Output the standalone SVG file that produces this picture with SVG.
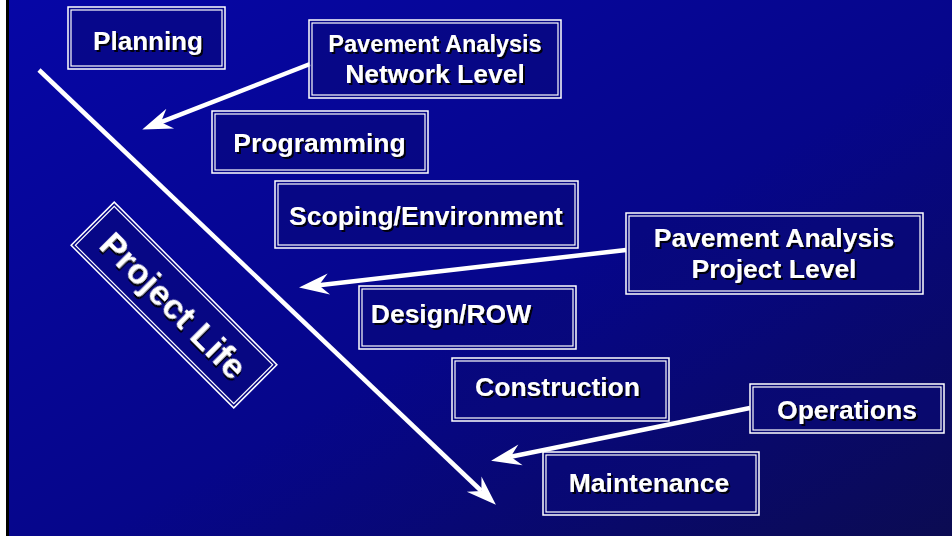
<svg xmlns="http://www.w3.org/2000/svg" width="952" height="536" viewBox="0 0 952 536">
<defs>
  <linearGradient id="bg" x1="0" y1="0" x2="1" y2="1">
    <stop offset="0" stop-color="#0606a6"/>
    <stop offset="0.55" stop-color="#06068a"/>
    <stop offset="1" stop-color="#0b0b52"/>
  </linearGradient>
  <filter id="sh" x="-10%" y="-30%" width="130%" height="160%">
    <feDropShadow dx="2" dy="2" stdDeviation="0.6" flood-color="#000000" flood-opacity="0.9"/>
  </filter>
  <marker id="ah" markerUnits="userSpaceOnUse" markerWidth="40" markerHeight="40" viewBox="-12 -14 32 28" refX="0" refY="0" orient="auto">
    <path d="M16,0 L-8,-8.5 L0,0 L-8,8.5 Z" fill="#ffffff"/>
  </marker>
  <style>
    .outer{fill:#0a0a78;fill-opacity:0.55;stroke:#ffffff;stroke-width:1.5}
    .inner{fill:none;stroke:#ffffff;stroke-width:1.2}
    .t{font-family:"Liberation Sans",Arial,sans-serif;font-weight:bold;fill:#ffffff;text-anchor:middle;font-size:26.5px;filter:url(#sh)}
    .con{fill:none;stroke:#ffffff;stroke-width:4.5;stroke-linecap:butt}
  </style>
</defs>
<rect x="0" y="0" width="952" height="536" fill="url(#bg)"/>
<rect x="0" y="0" width="6" height="536" fill="#ffffff"/>
<rect x="6" y="0" width="3" height="536" fill="#000000"/>

<g id="connectors">
  <line class="con" x1="39" y1="70" x2="481.4" y2="491" marker-end="url(#ah)"/>
  <line class="con" x1="310" y1="64" x2="160.9" y2="122.2" marker-end="url(#ah)"/>
  <line class="con" x1="626" y1="250" x2="318.9" y2="285.2" marker-end="url(#ah)"/>
  <line class="con" x1="750" y1="408" x2="510.7" y2="456.8" marker-end="url(#ah)"/>
</g>

<g id="planning">
  <rect class="outer" x="68" y="7" width="157" height="62"/>
  <rect class="inner" x="71" y="10" width="151" height="56"/>
  <text class="t" x="148" y="50" style="font-size:26px">Planning</text>
</g>
<g id="pavement-network">
  <rect class="outer" x="309" y="20" width="252" height="78"/>
  <rect class="inner" x="312" y="23" width="246" height="72"/>
  <text class="t" x="435" y="52" style="font-size:23.5px">Pavement Analysis</text>
  <text class="t" x="435" y="83">Network Level</text>
</g>
<g id="programming">
  <rect class="outer" x="212" y="111" width="216" height="62"/>
  <rect class="inner" x="215" y="114" width="210" height="56"/>
  <text class="t" x="319.5" y="152">Programming</text>
</g>
<g id="scoping">
  <rect class="outer" x="275" y="181" width="303" height="67"/>
  <rect class="inner" x="278" y="184" width="297" height="61"/>
  <text class="t" x="426" y="225">Scoping/Environment</text>
</g>
<g id="design">
  <rect class="outer" x="359" y="286" width="217" height="63"/>
  <rect class="inner" x="362" y="289" width="211" height="57"/>
  <text class="t" x="451" y="323">Design/ROW</text>
</g>
<g id="pavement-project">
  <rect class="outer" x="626" y="213" width="297" height="81"/>
  <rect class="inner" x="629" y="216" width="291" height="75"/>
  <text class="t" x="774" y="247">Pavement Analysis</text>
  <text class="t" x="774" y="278">Project Level</text>
</g>
<g id="construction">
  <rect class="outer" x="452" y="358" width="217" height="63"/>
  <rect class="inner" x="455" y="361" width="211" height="57"/>
  <text class="t" x="557.5" y="396">Construction</text>
</g>
<g id="operations">
  <rect class="outer" x="750" y="384" width="194" height="49"/>
  <rect class="inner" x="753" y="387" width="188" height="43"/>
  <text class="t" x="847" y="418.5">Operations</text>
</g>
<g id="maintenance">
  <rect class="outer" x="543" y="452" width="216" height="63"/>
  <rect class="inner" x="546" y="455" width="210" height="57"/>
  <text class="t" x="649" y="491.5">Maintenance</text>
</g>
<g id="project-life" transform="translate(174,305) rotate(45)">
  <rect class="outer" x="-115" y="-30.5" width="230" height="61"/>
  <rect class="inner" x="-112" y="-27.5" width="224" height="55"/>
  <text class="t" x="0" y="12.5" style="font-size:35px">Project Life</text>
</g>
</svg>
